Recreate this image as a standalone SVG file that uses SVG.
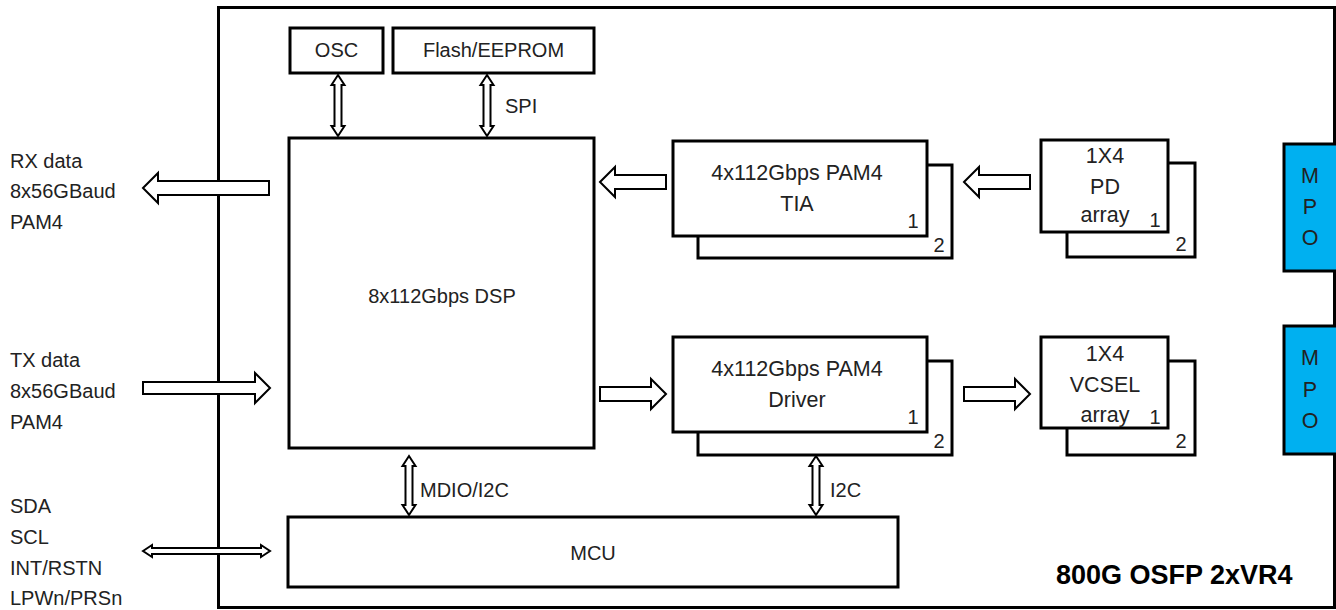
<svg xmlns="http://www.w3.org/2000/svg" width="1336" height="610" viewBox="0 0 1336 610">
<style>
.box{fill:#fff;stroke:#000;stroke-width:3}
.mpo{fill:#00B0F0;stroke:#000;stroke-width:3}
.arr{fill:#fff;stroke:#000;stroke-width:2;stroke-linejoin:miter}
.t{font-family:"Liberation Sans",Arial,sans-serif;font-size:20px;fill:#222}
.b{font-size:21.5px}
.c{text-anchor:middle}
.n{font-family:"Liberation Sans",Arial,sans-serif;font-size:20px;fill:#222;text-anchor:middle}
.title{font-family:"Liberation Sans",Arial,sans-serif;font-size:27px;font-weight:bold;fill:#000}
</style>
<rect width="1336" height="610" fill="#fff"/>
<g id="module">
<rect x="218.5" y="7.5" width="1116" height="600" fill="none" stroke="#000" stroke-width="3"/>
<text class="title" x="1056" y="584">800G OSFP 2xVR4</text>
</g>
<g id="osc"><rect class="box" x="290" y="28" width="93" height="45"/><text class="t c" x="336.5" y="57">OSC</text></g>
<g id="flash"><rect class="box" x="393" y="28" width="201" height="45"/><text class="t c" x="493.5" y="57">Flash/EEPROM</text></g>
<g id="dsp"><rect class="box" x="289" y="138" width="305" height="310"/><text class="t c" x="442" y="303">8x112Gbps DSP</text></g>
<g id="mcu"><rect class="box" x="288" y="517" width="610" height="70"/><text class="t c" x="593" y="560">MCU</text></g>
<g id="tia">
<rect class="box" x="698" y="165" width="254" height="93"/>
<text class="n" x="939" y="252">2</text>
<rect class="box" x="673" y="141" width="254" height="95"/>
<text class="t b c" x="797" y="180">4x112Gbps PAM4</text>
<text class="t b c" x="797" y="211">TIA</text>
<text class="n" x="913" y="228">1</text>
</g>
<g id="driver">
<rect class="box" x="698" y="361" width="254" height="94"/>
<text class="n" x="939" y="448">2</text>
<rect class="box" x="673" y="337" width="254" height="95"/>
<text class="t b c" x="797" y="376">4x112Gbps PAM4</text>
<text class="t b c" x="797" y="407">Driver</text>
<text class="n" x="913" y="424">1</text>
</g>
<g id="pd">
<rect class="box" x="1067" y="163" width="128" height="94"/>
<text class="n" x="1181" y="251">2</text>
<rect class="box" x="1041" y="140" width="127" height="92"/>
<text class="t b c" x="1105" y="163">1X4</text>
<text class="t b c" x="1105" y="194">PD</text>
<text class="t b c" x="1105" y="222">array</text>
<text class="n" x="1155" y="227">1</text>
</g>
<g id="vcsel">
<rect class="box" x="1067" y="361" width="128" height="94"/>
<text class="n" x="1181" y="448">2</text>
<rect class="box" x="1041" y="337" width="127" height="91"/>
<text class="t b c" x="1105" y="361">1X4</text>
<text class="t b c" x="1105" y="392">VCSEL</text>
<text class="t b c" x="1105" y="422">array</text>
<text class="n" x="1155" y="424">1</text>
</g>
<g id="mpo1"><rect class="mpo" x="1284" y="144" width="54" height="127"/>
<text class="t b c" x="1310" y="183">M</text><text class="t b c" x="1310" y="214">P</text><text class="t b c" x="1310" y="245">O</text></g>
<g id="mpo2"><rect class="mpo" x="1284" y="326" width="54" height="128"/>
<text class="t b c" x="1310" y="365">M</text><text class="t b c" x="1310" y="397">P</text><text class="t b c" x="1310" y="428">O</text></g>
<g id="labels">
<text class="t" x="10" y="168">RX data</text>
<text class="t" x="10" y="198">8x56GBaud</text>
<text class="t" x="10" y="229">PAM4</text>
<text class="t" x="10" y="367">TX data</text>
<text class="t" x="10" y="398">8x56GBaud</text>
<text class="t" x="10" y="429">PAM4</text>
<text class="t" x="10" y="513">SDA</text>
<text class="t" x="10" y="544">SCL</text>
<text class="t" x="10" y="575">INT/RSTN</text>
<text class="t" x="10" y="605">LPWn/PRSn</text>
<text class="t" x="505" y="113">SPI</text>
<text class="t" x="420" y="497">MDIO/I2C</text>
<text class="t" x="830" y="497">I2C</text>
</g>
<g id="connectors">
<path class="arr" d="M143,188 L158,173 L158,181 L269,181 L269,195 L158,195 L158,203 Z"/>
<path class="arr" d="M270,388 L255,373 L255,382 L143,382 L143,394 L255,394 L255,403 Z"/>
<path class="arr" d="M600,182 L615,167 L615,175 L666,175 L666,189 L615,189 L615,197 Z"/>
<path class="arr" d="M964,182 L979,167 L979,175 L1030,175 L1030,189 L979,189 L979,197 Z"/>
<path class="arr" d="M666,394 L651,379 L651,387 L600,387 L600,401 L651,401 L651,409 Z"/>
<path class="arr" d="M1030,394 L1015,379 L1015,387 L964,387 L964,401 L1015,401 L1015,409 Z"/>
<path class="arr" d="M338,75 L344.5,85 L341.5,85 L341.5,126 L344.5,126 L338,136 L331.5,126 L334.5,126 L334.5,85 L331.5,85 Z"/>
<path class="arr" d="M487,75 L493.5,85 L490.5,85 L490.5,126 L493.5,126 L487,136 L480.5,126 L483.5,126 L483.5,85 L480.5,85 Z"/>
<path class="arr" d="M409,456 L415.5,466 L412.5,466 L412.5,505 L415.5,505 L409,515 L402.5,505 L405.5,505 L405.5,466 L402.5,466 Z"/>
<path class="arr" d="M816,456 L822.5,466 L819.5,466 L819.5,505 L822.5,505 L816,515 L809.5,505 L812.5,505 L812.5,466 L809.5,466 Z"/>
<path class="arr" d="M143,551 L152,545 L152,548 L261,548 L261,545 L270,551 L261,557 L261,554 L152,554 L152,557 Z"/>
</g>
</svg>
